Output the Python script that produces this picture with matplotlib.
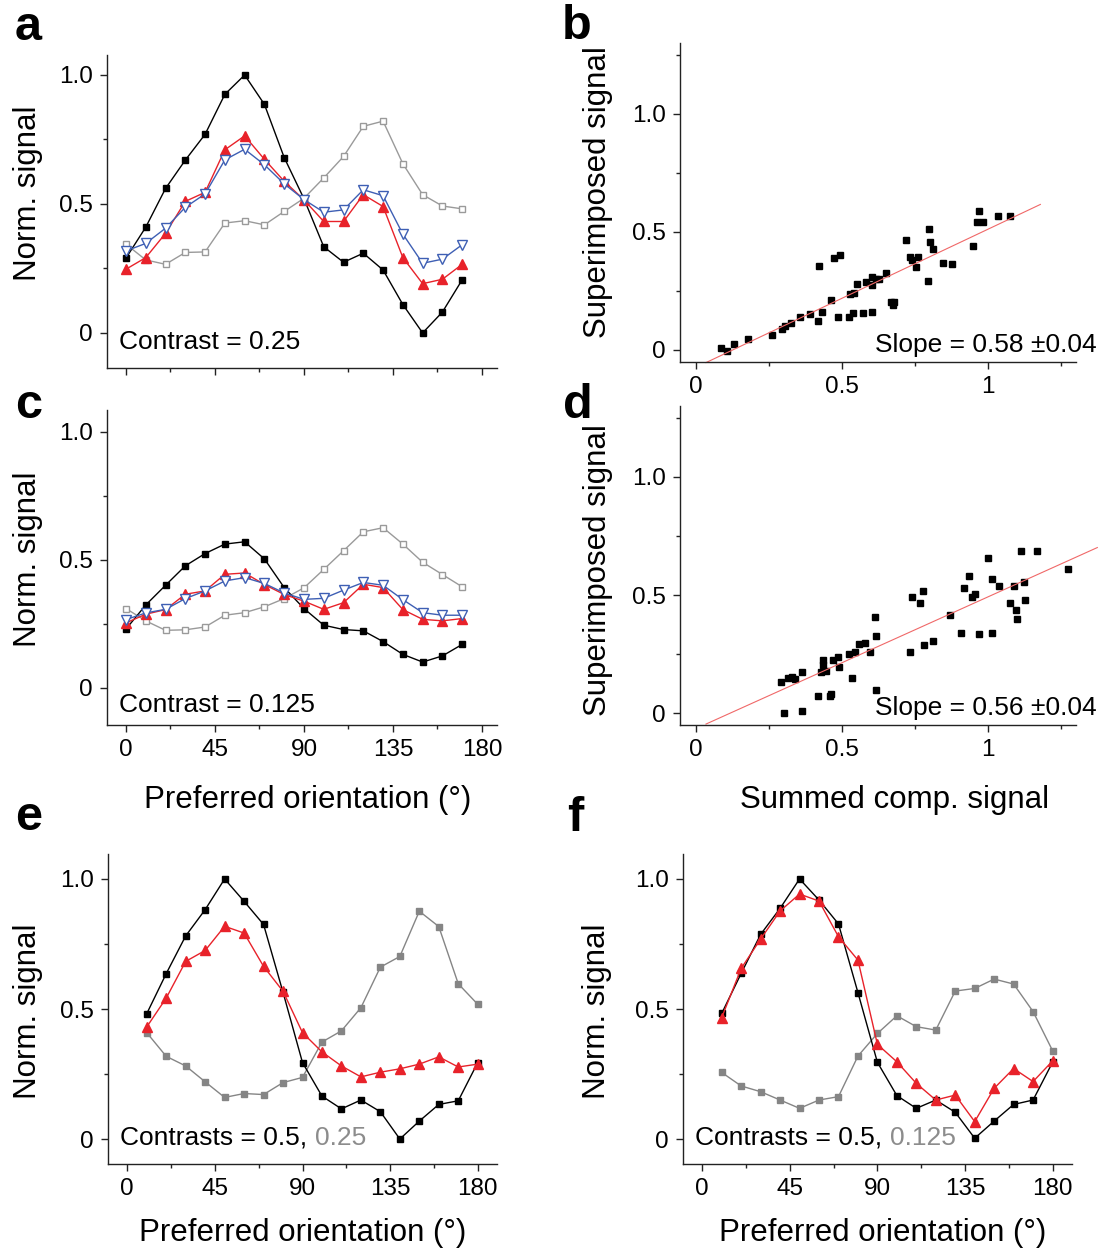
import matplotlib.pyplot as plt
from matplotlib.ticker import FixedLocator, MultipleLocator

plt.rcParams["font.family"] = ["Liberation Sans", "DejaVu Sans"]

# orientation axes (deg)
ORI_TOP = [0, 10, 20, 30, 40, 50, 60, 70, 80, 90, 100, 110, 120, 130, 140, 150, 160, 170]
ORI_BOTTOM = [10, 20, 30, 40, 50, 60, 70, 80, 90, 100, 110, 120, 130, 140, 150, 160, 170, 180]

# panel a, contrast 0.25
A_BLACK = [0.29, 0.41, 0.56, 0.67, 0.77, 0.925, 1.0, 0.886, 0.68, 0.52, 0.334, 0.274, 0.309, 0.244, 0.11, 0.0, 0.081, 0.206]
A_RED = [0.247, 0.292, 0.386, 0.51, 0.545, 0.71, 0.764, 0.673, 0.588, 0.516, 0.432, 0.432, 0.536, 0.49, 0.292, 0.191, 0.208, 0.266]
A_BLUE = [0.318, 0.347, 0.406, 0.487, 0.539, 0.671, 0.712, 0.652, 0.578, 0.517, 0.468, 0.477, 0.555, 0.532, 0.383, 0.27, 0.286, 0.342]
A_GREY = [0.344, 0.283, 0.266, 0.312, 0.314, 0.426, 0.435, 0.419, 0.471, 0.522, 0.601, 0.684, 0.801, 0.821, 0.656, 0.536, 0.492, 0.481]

# panel c, contrast 0.125
C_BLACK = [0.229, 0.323, 0.4, 0.476, 0.524, 0.561, 0.57, 0.503, 0.391, 0.309, 0.244, 0.227, 0.222, 0.18, 0.13, 0.1, 0.124, 0.169]
C_RED = [0.253, 0.287, 0.305, 0.365, 0.378, 0.443, 0.448, 0.403, 0.364, 0.338, 0.306, 0.332, 0.404, 0.391, 0.305, 0.267, 0.261, 0.27]
C_BLUE = [0.266, 0.292, 0.306, 0.348, 0.378, 0.417, 0.43, 0.407, 0.37, 0.345, 0.349, 0.381, 0.411, 0.4, 0.344, 0.293, 0.283, 0.283]
C_GREY = [0.309, 0.261, 0.224, 0.226, 0.237, 0.283, 0.293, 0.316, 0.348, 0.39, 0.462, 0.535, 0.609, 0.625, 0.561, 0.49, 0.442, 0.394]

# panel e, contrasts 0.5 / 0.25
E_BLACK = [0.482, 0.636, 0.781, 0.882, 1.0, 0.914, 0.825, 0.564, 0.294, 0.165, 0.116, 0.15, 0.105, 0.0, 0.069, 0.133, 0.147, 0.294]
E_RED = [0.431, 0.542, 0.683, 0.725, 0.818, 0.792, 0.664, 0.568, 0.409, 0.335, 0.281, 0.239, 0.257, 0.27, 0.288, 0.316, 0.277, 0.288]
E_GREY = [0.409, 0.318, 0.281, 0.22, 0.16, 0.175, 0.171, 0.217, 0.237, 0.373, 0.416, 0.505, 0.661, 0.702, 0.876, 0.817, 0.597, 0.518]

# panel f, contrasts 0.5 / 0.125
F_BLACK = [0.483, 0.637, 0.787, 0.887, 1.0, 0.919, 0.827, 0.563, 0.295, 0.167, 0.118, 0.15, 0.103, 0.003, 0.069, 0.133, 0.15, 0.295]
F_RED = [0.467, 0.656, 0.769, 0.877, 0.942, 0.915, 0.778, 0.688, 0.364, 0.297, 0.214, 0.15, 0.169, 0.067, 0.195, 0.271, 0.221, 0.3]
F_GREY = [0.256, 0.204, 0.182, 0.15, 0.118, 0.15, 0.163, 0.319, 0.406, 0.474, 0.432, 0.419, 0.569, 0.579, 0.615, 0.596, 0.49, 0.34]

# panel b scatter: summed component vs superimposed
B_X = [0.086, 0.108, 0.132, 0.178, 0.26, 0.296, 0.304, 0.325, 0.358, 0.392, 0.417, 0.433, 0.422, 0.462,
       0.473, 0.493, 0.487, 0.525, 0.54, 0.571, 0.603, 0.529, 0.542, 0.553, 0.582, 0.603, 0.603, 0.616,
       0.626, 0.651, 0.669, 0.674, 0.679, 0.721, 0.733, 0.742, 0.76, 0.753, 0.797, 0.803, 0.811, 0.795,
       0.845, 0.879, 0.951, 0.97, 0.962, 0.985, 1.034, 1.076]
B_Y = [0.007, -0.003, 0.025, 0.045, 0.064, 0.089, 0.102, 0.113, 0.138, 0.151, 0.124, 0.16, 0.357, 0.212,
       0.388, 0.403, 0.141, 0.141, 0.158, 0.158, 0.162, 0.237, 0.24, 0.28, 0.287, 0.273, 0.311, 0.301,
       0.301, 0.328, 0.205, 0.191, 0.202, 0.466, 0.393, 0.381, 0.395, 0.353, 0.511, 0.458, 0.427, 0.29,
       0.37, 0.364, 0.441, 0.59, 0.544, 0.541, 0.568, 0.568]
B_SLOPE, B_INTERCEPT = 0.585, -0.074
B_FIT_X = [0.035, 1.18]

# panel d scatter
D_X = [0.292, 0.303, 0.315, 0.329, 0.34, 0.365, 0.363, 0.418, 0.428, 0.435, 0.435, 0.445, 0.46, 0.462,
       0.471, 0.486, 0.489, 0.525, 0.534, 0.546, 0.559, 0.578, 0.595, 0.614, 0.618, 0.618, 0.732, 0.742,
       0.768, 0.777, 0.783, 0.814, 0.871, 0.908, 0.92, 0.934, 0.945, 0.957, 0.971, 1.002, 1.014, 1.014,
       1.038, 1.076, 1.091, 1.096, 1.099, 1.114, 1.124, 1.126, 1.168, 1.276]
D_Y = [0.134, 0.0, 0.148, 0.152, 0.144, 0.176, 0.011, 0.075, 0.176, 0.225, 0.204, 0.18, 0.075, 0.082,
       0.225, 0.239, 0.197, 0.251, 0.151, 0.261, 0.293, 0.299, 0.258, 0.406, 0.327, 0.101, 0.261, 0.493,
       0.465, 0.517, 0.289, 0.306, 0.418, 0.341, 0.531, 0.58, 0.493, 0.504, 0.334, 0.659, 0.568, 0.338,
       0.539, 0.465, 0.539, 0.437, 0.399, 0.686, 0.556, 0.479, 0.686, 0.61]
D_SLOPE, D_INTERCEPT = 0.557, -0.0645
D_FIT_X = [0.035, 1.375]

RED = "#e8222a"
BLUE = "#3e5fb4"
GREY_OPEN = "#9a9a9a"
GREY_FILL = "#858585"
FIT_RED = "#f06868"

W, H = 1109, 1255


def px_axes(left, top, right, bottom):
    return [left / W, 1 - bottom / H, (right - left) / W, (bottom - top) / H]


def style(ax, xlim, ylim, xticks, xlabels, xminor, yticks, ylabels, yminor):
    for s in ("top", "right"):
        ax.spines[s].set_visible(False)
    for s in ("left", "bottom"):
        ax.spines[s].set_linewidth(1.0)
        ax.spines[s].set_color("#222222")
    ax.set_xlim(*xlim)
    ax.set_ylim(*ylim)
    ax.xaxis.set_major_locator(FixedLocator(xticks))
    ax.set_xticklabels(xlabels)
    ax.xaxis.set_minor_locator(FixedLocator(xminor))
    ax.yaxis.set_major_locator(FixedLocator(yticks))
    ax.set_yticklabels(ylabels)
    ax.yaxis.set_minor_locator(FixedLocator(yminor))
    ax.tick_params(which="both", direction="out", width=1.0, color="#222222", labelsize=17.5, pad=5)
    ax.tick_params(which="major", length=5)
    ax.tick_params(which="minor", length=3)


def set_ylabel(ax, text, x, y):
    ax.set_ylabel(text, fontsize=22.5)
    ax.yaxis.set_label_coords(x, y)
    ax.yaxis.label.set_va("center")


def set_xlabel(ax, text, x, y):
    ax.set_xlabel(text, fontsize=22.5)
    ax.xaxis.set_label_coords(x, y)
    ax.xaxis.label.set_va("center")


def orientation_top(ax, black, red, blue, grey, note):
    ax.plot(ORI_TOP, grey, color=GREY_OPEN, lw=1.0, marker="s", ms=5, mfc="white", mec=GREY_OPEN, mew=1.0)
    ax.plot(ORI_TOP, black, color="black", lw=1.0, marker="s", ms=5)
    ax.plot(ORI_TOP, red, color=RED, lw=1.0, marker="^", ms=6.5)
    ax.plot(ORI_TOP, blue, color=BLUE, lw=1.0, marker="v", ms=6.5, mfc="white", mec=BLUE, mew=1.0)
    ax.text(-3.5, -0.035 if "0.25" in note else -0.069, note, fontsize=19, va="center", ha="left")


def orientation_bottom(ax, black, red, grey, second):
    ax.plot(ORI_BOTTOM, grey, color=GREY_FILL, lw=1.0, marker="s", ms=4.5)
    ax.plot(ORI_BOTTOM, black, color="black", lw=1.0, marker="s", ms=5)
    ax.plot(ORI_BOTTOM, red, color=RED, lw=1.0, marker="^", ms=6.5)
    t1 = ax.text(-3.5, 0.005, "Contrasts = 0.5,", fontsize=19, va="center", ha="left")
    ax.annotate(second, xy=(1, 0), xycoords=t1, xytext=(5.5, 0), textcoords="offset points",
                va="bottom", ha="left", fontsize=19, color="#8c8c8c")


fig = plt.figure(figsize=(W / 100, H / 100), dpi=100)

ORI_T = [0, 45, 90, 135, 180]
ORI_L = ["0", "45", "90", "135", "180"]
ORI_M = [22.5, 67.5, 112.5, 157.5]
NS_T = [0, 0.5, 1.0]
NS_L = ["0", "0.5", "1.0"]
NS_M = [0.25, 0.75]

# a
ax_a = fig.add_axes(px_axes(107, 55, 497, 368))
orientation_top(ax_a, A_BLACK, A_RED, A_BLUE, A_GREY, "Contrast = 0.25")
style(ax_a, (-9.6, 187.6), (-0.136, 1.0775), ORI_T, ORI_L, ORI_M, NS_T, NS_L, NS_M)
ax_a.tick_params(labelbottom=False)
set_ylabel(ax_a, "Norm. signal", -0.203, 0.559)

# c
ax_c = fig.add_axes(px_axes(107, 410, 497, 725))
orientation_top(ax_c, C_BLACK, C_RED, C_BLUE, C_GREY, "Contrast = 0.125")
style(ax_c, (-9.6, 187.6), (-0.146, 1.085), ORI_T, ORI_L, ORI_M, NS_T, NS_L, NS_M)
set_ylabel(ax_c, "Norm. signal", -0.203, 0.527)
set_xlabel(ax_c, "Preferred orientation (°)", 0.514, -0.238)

SC_T = [0, 0.5, 1.0]
SC_L = ["0", "0.5", "1"]
SC_M = [0.25, 0.75, 1.25]
SY_L = ["0", "0.5", "1.0"]

# b
ax_b = fig.add_axes(px_axes(680, 43, 1076, 362))
ax_b.plot(B_X, B_Y, "s", color="black", ms=5, ls="none")
bx = [B_FIT_X[0], B_FIT_X[1]]
ax_b.plot(bx, [B_SLOPE * v + B_INTERCEPT for v in bx], color=FIT_RED, lw=0.8, clip_on=False)
style(ax_b, (-0.054, 1.302), (-0.051, 1.30), SC_T, SC_L, SC_M, SC_T, SY_L, SC_M)
ax_b.text(1.374, 0.02, "Slope = 0.58 ±0.04", fontsize=19, va="center", ha="right")
set_ylabel(ax_b, "Superimposed signal", -0.207, 0.534)

# d
ax_d = fig.add_axes(px_axes(680, 406, 1076, 725))
ax_d.plot(D_X, D_Y, "s", color="black", ms=5, ls="none")
dx = [D_FIT_X[0], D_FIT_X[1]]
ax_d.plot(dx, [D_SLOPE * v + D_INTERCEPT for v in dx], color=FIT_RED, lw=0.8, clip_on=False)
style(ax_d, (-0.054, 1.302), (-0.049, 1.30), SC_T, SC_L, SC_M, SC_T, SY_L, SC_M)
ax_d.text(1.374, 0.022, "Slope = 0.56 ±0.04", fontsize=19, va="center", ha="right")
set_ylabel(ax_d, "Superimposed signal", -0.207, 0.486)
set_xlabel(ax_d, "Summed comp. signal", 0.542, -0.234)

# e
ax_e = fig.add_axes(px_axes(108, 854, 497, 1164))
orientation_bottom(ax_e, E_BLACK, E_RED, E_GREY, "0.25")
style(ax_e, (-9.9, 189.9), (-0.096, 1.096), ORI_T, ORI_L, ORI_M, NS_T, NS_L, NS_M)
set_ylabel(ax_e, "Norm. signal", -0.206, 0.494)
set_xlabel(ax_e, "Preferred orientation (°)", 0.5, -0.223)

# f
ax_f = fig.add_axes(px_axes(683, 854, 1072, 1164))
orientation_bottom(ax_f, F_BLACK, F_RED, F_GREY, "0.125")
style(ax_f, (-9.9, 190.0), (-0.096, 1.096), ORI_T, ORI_L, ORI_M, NS_T, NS_L, NS_M)
set_ylabel(ax_f, "Norm. signal", -0.221, 0.494)
set_xlabel(ax_f, "Preferred orientation (°)", 0.514, -0.223)

for letter, x, y in [("a", 15, 40), ("b", 562, 39), ("c", 15, 418),
                     ("d", 563, 418), ("e", 15, 830), ("f", 567, 831)]:
    fig.text(x / W, 1 - y / H, letter, fontsize=35, fontweight="bold", va="baseline", ha="left")

fig.savefig("out.png", dpi=100)
